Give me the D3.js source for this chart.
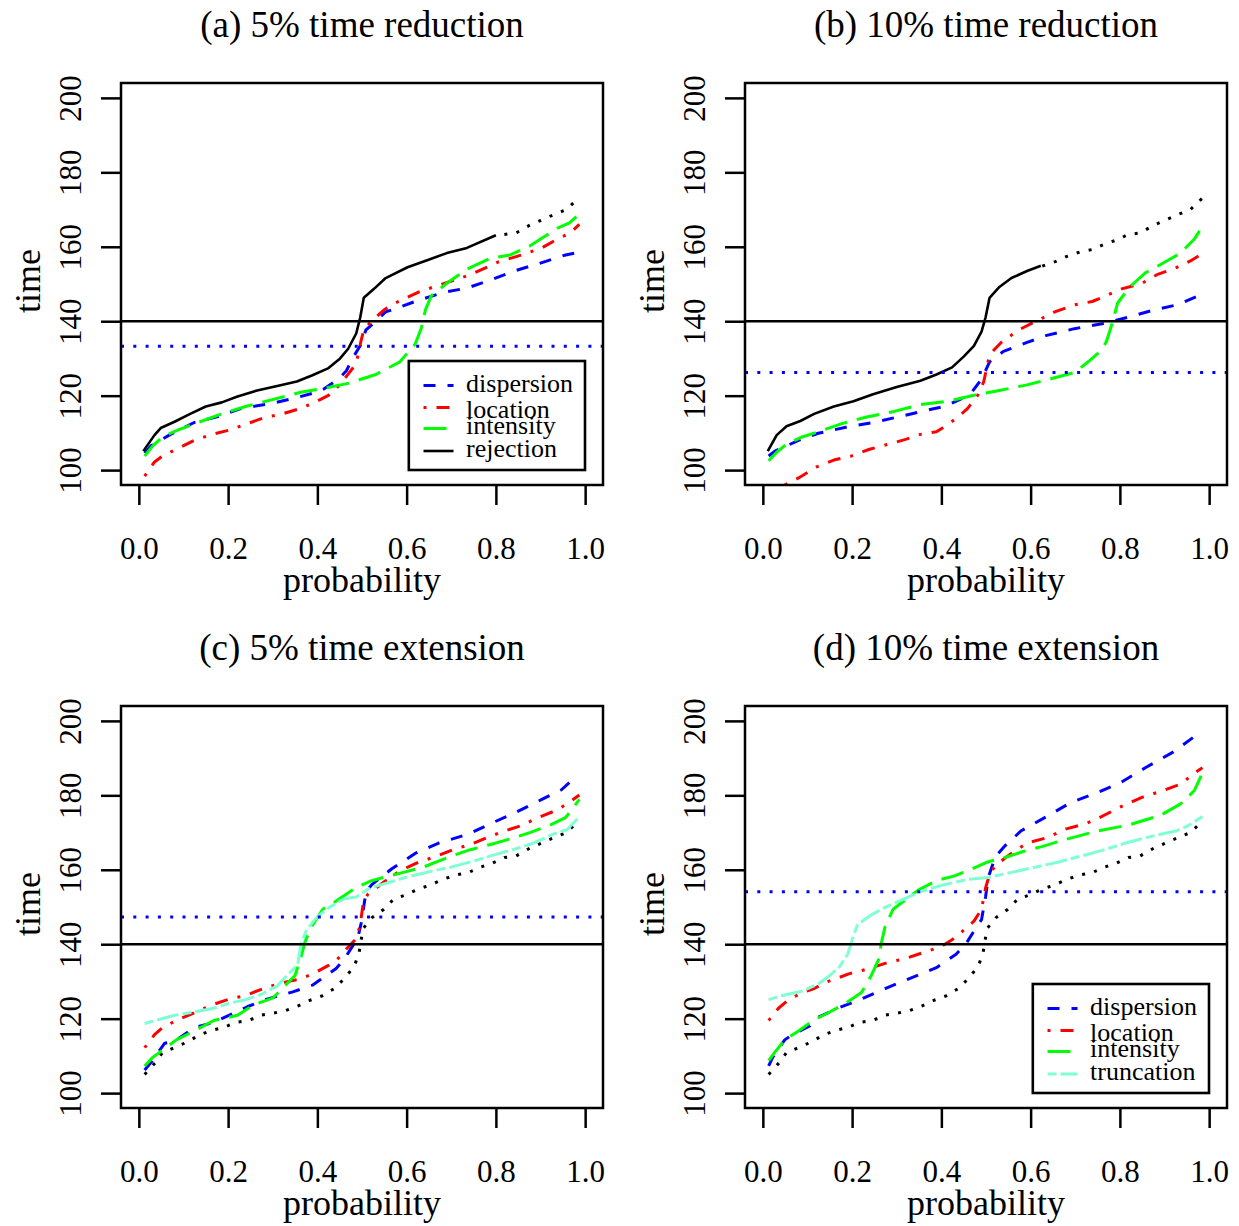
<!DOCTYPE html>
<html><head><meta charset="utf-8">
<script src="https://cdn.jsdelivr.net/npm/d3@7"></script>
<style>
body{margin:0;background:#fff;}
svg{display:block;}
text{font-family:"Liberation Serif","Times New Roman",serif;fill:#000;}
</style>
</head><body>
<svg id="chart" width="1239" height="1226"></svg>
<script>
// ---------------- data ----------------
const panelTitles = ["(a) 5% time reduction", "(b) 10% time reduction", "(c) 5% time extension", "(d) 10% time extension"];
const xTicks = [0, 0.2, 0.4, 0.6, 0.8, 1.0];
const xTickLabels = ["0.0", "0.2", "0.4", "0.6", "0.8", "1.0"];
const yTicks = [100, 120, 140, 160, 180, 200];
const yTickLabels = ["100", "120", "140", "160", "180", "200"];
const xDomain = [0, 1];
const yDomain = [100, 200];
const targetTime = 140;
const thresholds = [133.3, 126.2, 147.3, 154.1];
const legendA = ["dispersion", "location", "intensity", "rejection"];
const legendD = ["dispersion", "location", "intensity", "truncation"];

// baseline (black dotted) quantile curve
const baseline = [[0.013,105.0],[0.037,108.2],[0.053,110.9],[0.08,112.2],[0.106,113.6],[0.137,115.7],[0.164,116.9],[0.19,117.6],[0.217,119.0],[0.246,119.5],[0.273,120.9],[0.301,121.5],[0.327,122.1],[0.356,123.4],[0.383,124.9],[0.412,126.2],[0.438,128.1],[0.46,130.7],[0.482,134.0],[0.493,137.3],[0.497,140.5],[0.503,144.3],[0.522,147.1],[0.549,149.4],[0.571,152.1],[0.597,153.2],[0.626,154.8],[0.655,156.0],[0.681,157.4],[0.71,158.6],[0.739,159.3],[0.765,160.7],[0.792,161.8],[0.819,163.3],[0.845,163.7],[0.876,165.8],[0.903,167.2],[0.929,168.6],[0.958,170.0],[0.987,173.3]];

// (a) 5% time reduction
const rejectionA = [[0.01,105.1],[0.035,109.4],[0.049,111.3],[0.08,113.0],[0.115,115.1],[0.15,117.1],[0.186,118.2],[0.221,119.8],[0.265,121.4],[0.31,122.6],[0.354,123.8],[0.389,125.5],[0.425,127.4],[0.451,130.0],[0.469,132.6],[0.487,136.7],[0.496,141.0],[0.504,146.3],[0.527,148.7],[0.553,151.6],[0.602,154.5],[0.646,156.4],[0.69,158.3],[0.735,159.7],[0.80,163.1]];
const dispersionA = [[0.013,104.6],[0.027,106.5],[0.071,109.6],[0.124,112.8],[0.177,114.4],[0.23,116.6],[0.292,117.8],[0.345,119.2],[0.398,120.9],[0.416,121.9],[0.447,124.4],[0.465,126.7],[0.481,130.5],[0.496,133.4],[0.509,137.7],[0.527,139.6],[0.553,142.5],[0.575,143.4],[0.619,145.3],[0.681,147.7],[0.735,148.9],[0.788,151.1],[0.841,153.5],[0.894,155.4],[0.956,157.8],[0.996,158.8]];
const locationA = [[0.013,98.4],[0.035,102.2],[0.053,103.8],[0.084,105.6],[0.124,108.0],[0.164,109.6],[0.204,110.8],[0.239,112.3],[0.283,114.2],[0.319,115.0],[0.363,116.6],[0.394,118.2],[0.425,120.1],[0.442,121.9],[0.465,125.2],[0.487,128.6],[0.497,134.3],[0.504,137.7],[0.522,140.1],[0.549,143.0],[0.575,144.9],[0.628,147.9],[0.673,149.7],[0.743,152.5],[0.805,155.9],[0.858,157.8],[0.903,159.7],[0.938,162.1],[0.965,163.6],[0.987,166.0]];
const intensityA = [[0.013,103.8],[0.031,106.5],[0.053,108.9],[0.088,110.8],[0.133,112.8],[0.186,115.1],[0.239,117.1],[0.301,119.0],[0.363,120.9],[0.416,122.0],[0.469,123.3],[0.531,125.7],[0.553,127.1],[0.584,129.0],[0.619,133.8],[0.633,138.2],[0.642,143.0],[0.655,146.8],[0.69,150.2],[0.735,154.0],[0.788,156.9],[0.832,157.8],[0.876,160.2],[0.907,162.6],[0.938,165.0],[0.965,166.4],[0.987,168.8]];

// (b) 10% time reduction
const rejectionB = [[0.011,105.1],[0.031,109.4],[0.053,111.8],[0.084,113.2],[0.115,115.1],[0.159,117.1],[0.203,118.5],[0.247,120.4],[0.30,122.3],[0.353,124.0],[0.389,125.7],[0.424,127.6],[0.45,130.5],[0.473,133.4],[0.49,137.2],[0.499,141.0],[0.508,146.3],[0.53,149.2],[0.557,151.6],[0.592,153.5],[0.623,154.9]];
const dispersionB = [[0.013,103.8],[0.027,105.1],[0.044,106.0],[0.08,108.0],[0.124,109.9],[0.186,111.5],[0.247,112.8],[0.30,114.2],[0.353,115.7],[0.406,117.1],[0.442,119.0],[0.468,120.9],[0.486,123.8],[0.499,126.7],[0.508,129.1],[0.539,131.9],[0.592,134.3],[0.636,136.2],[0.698,138.0],[0.76,139.3],[0.822,141.2],[0.875,143.0],[0.928,144.4],[0.985,147.3]];
const locationB = [[0.049,96.0],[0.08,97.9],[0.119,100.8],[0.159,102.7],[0.199,103.8],[0.239,105.6],[0.283,107.0],[0.318,108.2],[0.353,109.6],[0.389,110.3],[0.415,112.3],[0.437,114.2],[0.459,116.6],[0.481,120.0],[0.495,123.8],[0.508,131.0],[0.534,134.3],[0.574,137.7],[0.614,140.1],[0.654,142.5],[0.698,144.4],[0.738,145.3],[0.768,146.8],[0.804,148.7],[0.848,150.1],[0.883,152.5],[0.923,154.2],[0.958,156.2],[0.976,157.5]];
const intensityB = [[0.013,102.5],[0.031,104.8],[0.053,107.0],[0.088,108.9],[0.124,110.3],[0.177,112.5],[0.23,114.2],[0.292,115.7],[0.353,117.6],[0.415,118.5],[0.468,120.0],[0.53,121.4],[0.592,122.9],[0.654,124.8],[0.698,126.2],[0.729,129.1],[0.756,131.9],[0.769,134.3],[0.782,139.1],[0.795,144.9],[0.822,149.2],[0.857,153.0],[0.901,155.9],[0.936,158.3],[0.967,162.1],[0.985,165.5]];

// (c) 5% time extension
const dispersionC = [[0.013,106.2],[0.027,108.2],[0.058,113.4],[0.08,113.9],[0.124,117.6],[0.168,119.0],[0.243,123.2],[0.283,125.1],[0.345,127.2],[0.389,129.0],[0.407,130.5],[0.442,133.5],[0.46,135.9],[0.482,140.1],[0.491,141.9],[0.5,146.6],[0.503,149.4],[0.509,154.1],[0.522,156.0],[0.566,160.2],[0.619,164.4],[0.673,167.2],[0.739,169.6],[0.788,172.4],[0.841,175.2],[0.903,178.9],[0.947,181.5],[0.969,183.9]];
const locationC = [[0.013,112.2],[0.035,115.7],[0.053,117.6],[0.084,119.5],[0.128,121.8],[0.164,123.7],[0.204,125.3],[0.239,126.2],[0.279,128.1],[0.319,129.6],[0.363,130.7],[0.394,132.3],[0.425,134.3],[0.442,135.6],[0.465,138.7],[0.487,141.5],[0.496,145.2],[0.503,151.3],[0.513,153.4],[0.549,156.7],[0.584,159.7],[0.628,162.1],[0.664,163.5],[0.704,165.4],[0.743,166.8],[0.779,168.6],[0.814,170.2],[0.858,171.9],[0.894,174.0],[0.938,176.1],[0.969,178.5],[0.987,180.1]];
const intensityC = [[0.013,107.3],[0.031,109.6],[0.053,111.5],[0.084,114.3],[0.124,116.7],[0.168,119.5],[0.221,120.9],[0.257,123.7],[0.301,125.6],[0.327,128.8],[0.35,131.6],[0.365,137.3],[0.372,140.5],[0.385,144.3],[0.412,149.4],[0.438,151.3],[0.487,155.2],[0.518,156.9],[0.553,158.1],[0.593,159.3],[0.637,160.7],[0.673,162.4],[0.708,164.0],[0.743,165.4],[0.788,166.8],[0.841,168.6],[0.876,170.0],[0.92,171.9],[0.956,174.0],[0.987,178.9]];
const truncationC = [[0.013,118.7],[0.049,119.9],[0.08,120.9],[0.124,121.8],[0.168,122.8],[0.204,124.2],[0.239,125.1],[0.274,126.5],[0.31,128.8],[0.336,132.1],[0.356,134.5],[0.363,140.1],[0.376,143.8],[0.394,146.6],[0.42,149.4],[0.46,152.2],[0.487,152.7],[0.518,155.1],[0.558,156.5],[0.602,158.1],[0.655,159.6],[0.699,160.7],[0.752,162.4],[0.796,164.0],[0.841,165.5],[0.885,167.2],[0.929,169.6],[0.96,170.8],[0.987,174.3]];

// (d) 10% time extension
const dispersionD = [[0.013,107.3],[0.022,109.6],[0.049,114.3],[0.066,115.7],[0.106,118.1],[0.124,120.4],[0.168,122.8],[0.221,125.3],[0.274,128.1],[0.327,130.7],[0.389,133.7],[0.433,137.3],[0.455,140.1],[0.477,144.3],[0.49,146.6],[0.499,152.7],[0.505,157.9],[0.521,163.5],[0.543,166.5],[0.579,170.5],[0.636,174.3],[0.689,178.0],[0.751,180.8],[0.804,183.6],[0.857,187.4],[0.919,191.6],[0.967,195.8],[0.981,197.7]];
const locationD = [[0.013,119.5],[0.035,122.8],[0.053,124.6],[0.084,126.8],[0.115,128.1],[0.141,129.8],[0.163,130.7],[0.194,132.1],[0.239,133.5],[0.283,135.2],[0.318,136.1],[0.358,137.7],[0.398,139.3],[0.424,141.2],[0.442,142.9],[0.473,146.2],[0.49,149.4],[0.499,155.1],[0.508,158.8],[0.521,161.1],[0.552,164.0],[0.592,167.2],[0.636,168.6],[0.68,171.0],[0.724,172.4],[0.751,173.8],[0.8,176.8],[0.848,179.4],[0.892,181.1],[0.936,183.0],[0.967,186.0],[0.985,187.4]];
const intensityD = [[0.013,108.7],[0.027,111.0],[0.049,114.3],[0.08,116.7],[0.115,119.7],[0.15,121.8],[0.186,124.2],[0.221,127.0],[0.243,131.6],[0.261,136.3],[0.265,140.1],[0.274,144.8],[0.292,149.4],[0.322,152.2],[0.349,154.6],[0.389,157.1],[0.428,158.3],[0.468,160.2],[0.504,162.1],[0.548,163.5],[0.583,164.9],[0.627,166.3],[0.68,168.2],[0.742,170.2],[0.822,172.1],[0.892,174.7],[0.936,177.7],[0.967,181.3],[0.985,186.0]];
const truncationD = [[0.013,125.1],[0.053,126.5],[0.088,127.4],[0.124,129.3],[0.15,131.6],[0.172,134.0],[0.19,137.3],[0.201,141.5],[0.212,145.2],[0.239,147.6],[0.274,149.9],[0.309,151.8],[0.353,154.1],[0.406,156.0],[0.459,157.4],[0.504,157.9],[0.557,159.3],[0.61,160.7],[0.663,162.1],[0.707,163.5],[0.76,165.2],[0.813,167.2],[0.875,169.1],[0.928,170.5],[0.954,171.9],[0.985,174.3]];

// ---------------- styles / layout ----------------
const styles = {
  dispersion: {color:"#0000FF", dash:"12,12", width:3},
  location:   {color:"#FF0000", dash:"3,10,13,10", width:3},
  intensity:  {color:"#00FF00", dash:"23,10", width:3},
  truncation: {color:"#7FFFD4", dash:"9,4,22,4", width:3},
  rejection:  {color:"#000000", dash:null, width:2.6},
  baseline:   {color:"#000000", dash:"3,9.3", width:3}
};

const W = 482, H = 402;
const panels = [
  {L:121, T:83, title:panelTitles[0], thr:thresholds[0], cut:0.80,
   series:[["dispersion",dispersionA],["location",locationA],["intensity",intensityA],["rejection",rejectionA]], legend:legendA},
  {L:745, T:83, title:panelTitles[1], thr:thresholds[1], cut:0.623,
   series:[["dispersion",dispersionB],["location",locationB],["intensity",intensityB],["rejection",rejectionB]], legend:null},
  {L:121, T:706, title:panelTitles[2], thr:thresholds[2], cut:0,
   series:[["dispersion",dispersionC],["location",locationC],["intensity",intensityC],["truncation",truncationC]], legend:null},
  {L:745, T:706, title:panelTitles[3], thr:thresholds[3], cut:0,
   series:[["dispersion",dispersionD],["location",locationD],["intensity",intensityD],["truncation",truncationD]], legend:legendD}
];

const svg = d3.select("#chart");
const ext = 0.04;

panels.forEach((P, i) => {
  const xr = xDomain[1]-xDomain[0], yr = yDomain[1]-yDomain[0];
  const x = d3.scaleLinear().domain([xDomain[0]-ext*xr, xDomain[1]+ext*xr]).range([0, W]);
  const y = d3.scaleLinear().domain([yDomain[0]-ext*yr, yDomain[1]+ext*yr]).range([H, 0]);

  const g = svg.append("g").attr("transform", `translate(${P.L},${P.T})`);
  const clipId = "clip"+i;
  g.append("clipPath").attr("id", clipId).append("rect").attr("width", W).attr("height", H);

  // title
  g.append("text").attr("x", W/2).attr("y", -46).attr("text-anchor","middle")
    .attr("font-size", 37).text(P.title);

  // axes
  const xAxis = d3.axisBottom(x).tickValues(xTicks).tickFormat((d,k)=>xTickLabels[k]).tickSize(20).tickPadding(0);
  const xa = g.append("g").attr("transform", `translate(0,${H})`).call(xAxis);
  xa.select(".domain").remove();
  xa.selectAll(".tick line").attr("stroke","#000").attr("stroke-width",2.5);
  xa.selectAll(".tick text").attr("y", 73.5).attr("dy", 0).attr("font-size", 31)
    .attr("font-family",'"Liberation Serif",serif').attr("fill","#000");

  const yAxis = d3.axisLeft(y).tickValues(yTicks).tickFormat((d,k)=>yTickLabels[k]).tickSize(20);
  const ya = g.append("g").call(yAxis);
  ya.select(".domain").remove();
  ya.selectAll(".tick line").attr("stroke","#000").attr("stroke-width",2.5);
  ya.selectAll(".tick text").attr("x", null).attr("dy", 0).attr("y", 0)
    .attr("transform", "translate(-40,0) rotate(-90)")
    .attr("text-anchor","middle").attr("font-size", 31)
    .attr("font-family",'"Liberation Serif",serif').attr("fill","#000");

  // axis titles
  g.append("text").attr("x", W/2).attr("y", H+107).attr("text-anchor","middle")
    .attr("font-size", 36).text("probability");
  g.append("text").attr("transform", `translate(-81.5,${H/2 - 3}) rotate(-90)`)
    .attr("text-anchor","middle").attr("font-size", 36).text("time");

  // curves
  const plot = g.append("g").attr("clip-path", `url(#${clipId})`);
  const lineGen = d3.line().x(d=>x(d[0])).y(d=>y(d[1])).curve(d3.curveLinear);

  const base = baseline.filter(d => d[0] >= P.cut);
  const bs = styles.baseline;
  plot.append("path").datum(base).attr("d", lineGen).attr("fill","none")
    .attr("stroke", bs.color).attr("stroke-width", bs.width).attr("stroke-dasharray", bs.dash);

  P.series.forEach(([name, data]) => {
    const s = styles[name];
    const p = plot.append("path").datum(data).attr("d", lineGen).attr("fill","none")
      .attr("stroke", s.color).attr("stroke-width", s.width).attr("stroke-linejoin","round");
    if (s.dash) p.attr("stroke-dasharray", s.dash);
  });

  // reference lines
  plot.append("line").attr("x1",0).attr("x2",W).attr("y1",y(targetTime)).attr("y2",y(targetTime))
    .attr("stroke","#000").attr("stroke-width",2.5);
  plot.append("line").attr("x1",0).attr("x2",W).attr("y1",y(P.thr)).attr("y2",y(P.thr))
    .attr("stroke","#0000FF").attr("stroke-width",3).attr("stroke-dasharray","3,9.3");

  // box
  g.append("rect").attr("width", W).attr("height", H).attr("fill","none")
    .attr("stroke","#000").attr("stroke-width",2.5);

  // legend
  if (P.legend) {
    const lg = g.append("g");
    const lineY = [24.5, 46.5, 67.5, 90];
    const textY = [31, 56.5, 72.5, 96];
    let maxLen = 0;
    P.legend.forEach((name, k) => {
      const t = lg.append("text").attr("x", 57.3).attr("y", textY[k]).attr("font-size", 26).text(name);
      maxLen = Math.max(maxLen, t.node().getComputedTextLength());
    });
    P.legend.forEach((name, k) => {
      const s = styles[name];
      const l = lg.append("line").attr("x1", 14.7).attr("x2", 44.7).attr("y1", lineY[k]).attr("y2", lineY[k])
        .attr("stroke", s.color).attr("stroke-width", s.width);
      if (s.dash) l.attr("stroke-dasharray", s.dash);
    });
    const bw = 57.3 + maxLen + 12, bh = 109;
    lg.insert("rect", ":first-child").attr("width", bw).attr("height", bh)
      .attr("fill","#fff").attr("stroke","#000").attr("stroke-width",2.6);
    lg.attr("transform", `translate(${W - 18 - bw},${H - 15 - bh})`);
  }
});
</script>
</body></html>
